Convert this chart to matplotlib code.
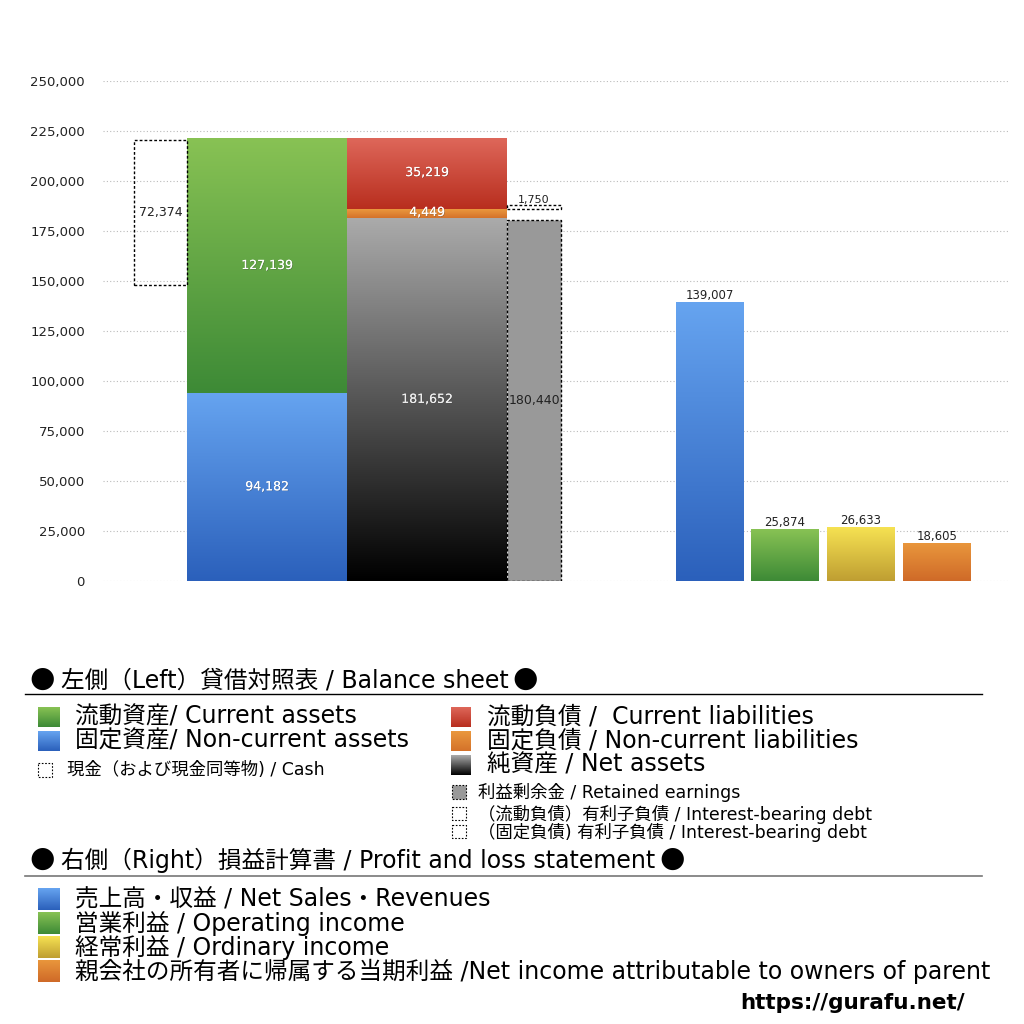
import numpy as np
import matplotlib.pyplot as plt
import matplotlib.patches as mpatches
import matplotlib.patheffects as pe
from matplotlib.colors import LinearSegmentedColormap

plt.rcParams['font.family'] = ['DejaVu Sans', 'Noto Sans CJK JP']

# ---- data ----
current_assets = 127139
noncurrent_assets = 94182
cash = 72374
current_liab = 35219
noncurrent_liab = 4449
net_assets = 181652
retained_earnings = 180440
ib_debt_noncurrent = 1750

pl_labels = ["売上高・収益", "営業利益", "経常利益", "親会社の所有者に帰属する当期利益"]
pl_values = [139007, 25874, 26633, 18605]

yticks = [0, 25000, 50000, 75000, 100000, 125000, 150000, 175000, 200000, 225000, 250000]

# gradient colours (top, bottom)
c_green = ("#88c254", "#3d8a36")
c_blue = ("#66a4f0", "#2b60bb")
c_red = ("#de675a", "#b82e1e")
c_orange = ("#ea983e", "#d4722a")
c_black = ("#ababab", "#000000")
c_yellow = ("#f6e252", "#bf9e32")
c_orange2 = ("#e9963c", "#cf6a28")
pl_colors = [c_blue, c_green, c_yellow, c_orange2]

fig = plt.figure(figsize=(10.24, 10.24), dpi=100)
W, H = 1024, 1024
ax = fig.add_axes([103 / W, 1 - 581 / H, (1010 - 103) / W, 500 / H])
ax.set_xlim(103, 1010)
ax.set_ylim(0, 250000)

num_font = ['DejaVu Sans']


def grad_bar(x0, x1, y0, y1, cols):
    cmap = LinearSegmentedColormap.from_list("g", [cols[1], cols[0]])
    grad = np.linspace(0, 1, 256).reshape(-1, 1)
    ax.imshow(grad, cmap=cmap, origin="lower", aspect="auto",
              extent=[x0, x1, y0, y1], zorder=2, interpolation="bicubic")


def bar_text(x, y, s, color="white", size=9):
    t = ax.text(x, y, s, ha="center", va="center", color=color, fontsize=size,
                family=num_font, zorder=5)
    t.set_path_effects([pe.withSimplePatchShadow(offset=(0.5, -0.5), shadow_rgbFace="#444444", alpha=0.4), pe.Normal()])
    return t


# grid
for v in yticks:
    ax.axhline(v, color="#bbbbbb", lw=0.8, ls=(0, (1, 2)), zorder=0)

# ---- balance sheet ----
total_assets = current_assets + noncurrent_assets
ax_l, ax_r = 187, 347
li_l, li_r = 347, 507
re_l, re_r = 507, 561
cash_l = 134

grad_bar(ax_l, ax_r, 0, noncurrent_assets, c_blue)
grad_bar(ax_l, ax_r, noncurrent_assets, total_assets, c_green)
bar_text((ax_l + ax_r) / 2, noncurrent_assets / 2, f"{noncurrent_assets:,}")
bar_text((ax_l + ax_r) / 2, noncurrent_assets + current_assets * 0.5, f"{current_assets:,}")

# cash box
ax.add_patch(mpatches.Rectangle((cash_l, total_assets - cash - 1000), ax_l - cash_l, cash,
                                fill=False, ls=(0, (2, 1.5)), lw=1, ec="black", zorder=3))
ax.text((cash_l + ax_l) / 2, total_assets - cash / 2 - 1000, f"{cash:,}", ha="center", va="center",
        fontsize=9, color="#222222", family=num_font, zorder=5)

grad_bar(li_l, li_r, 0, net_assets, c_black)
grad_bar(li_l, li_r, net_assets, net_assets + noncurrent_liab, c_orange)
grad_bar(li_l, li_r, net_assets + noncurrent_liab, net_assets + noncurrent_liab + current_liab, c_red)
bar_text((li_l + li_r) / 2, net_assets / 2, f"{net_assets:,}", color="#eeeeee")
bar_text((li_l + li_r) / 2, net_assets + noncurrent_liab / 2 + 400, f"{noncurrent_liab:,}")
bar_text((li_l + li_r) / 2, net_assets + noncurrent_liab + current_liab * 0.5 + 500, f"{current_liab:,}")

# retained earnings
ax.add_patch(mpatches.Rectangle((re_l, 0), re_r - re_l, retained_earnings, fc="#999999",
                                ec="black", ls=(0, (2, 1.5)), lw=1, zorder=3))
ax.text((re_l + re_r) / 2, retained_earnings / 2, f"{retained_earnings:,}", ha="center", va="center",
        fontsize=9, color="#222222", family=num_font, zorder=5)

# interest-bearing debt (non-current)
ib_base = net_assets + noncurrent_liab
ax.add_patch(mpatches.Rectangle((re_l, ib_base), re_r - re_l, ib_debt_noncurrent, fill=False,
                                ec="black", ls=(0, (2, 1.5)), lw=1, zorder=3))
ax.text((re_l + re_r) / 2, ib_base + ib_debt_noncurrent + 2500, f"{ib_debt_noncurrent:,}",
        ha="center", va="center", fontsize=8, color="#222222", family=num_font, zorder=5)

# ---- P&L ----
pl_x = [676, 751, 827, 903]
pl_w = 68
for x0, v, c in zip(pl_x, pl_values, pl_colors):
    grad_bar(x0, x0 + pl_w, 0, v, c)
    ax.text(x0 + pl_w / 2, v + 3500, f"{v:,}", ha="center", va="center", fontsize=8.5,
            color="#222222", family=num_font, zorder=5)

ax.set_xlim(103, 1010)
ax.set_ylim(0, 250000)
ax.set_yticks(yticks)
ax.set_yticklabels([f"{v:,}" for v in yticks], family=num_font, fontsize=9.5, color="#222222")
ax.tick_params(axis="y", length=0, pad=13)
ax.set_xticks([])
for s in ax.spines.values():
    s.set_visible(False)

# ---- legend area (pixel coords) ----
lg = fig.add_axes([0, 0, 1, 1])
lg.set_xlim(0, W)
lg.set_ylim(H, 0)
lg.axis("off")


def sq(x0, y0, w, h, cols=None, dashed=False, fc=None):
    if dashed:
        lg.add_patch(mpatches.Rectangle((x0, y0), w, h, fill=fc is not None, fc=fc or "none",
                                        ec="black", ls=(0, (1.5, 1.5)), lw=0.8))
    elif cols is not None:
        cmap = LinearSegmentedColormap.from_list("g", [cols[0], cols[1]])
        grad = np.linspace(0, 1, 64).reshape(-1, 1)
        lg.imshow(grad, cmap=cmap, aspect="auto", extent=[x0, x0 + w, y0 + h, y0])


fig.canvas.draw()
r = fig.canvas.get_renderer()

hdr1 = "左側（Left）貸借対照表 / Balance sheet"
hdr2 = "右側（Right）損益計算書 / Profit and loss statement"
for y, body in [(680, hdr1), (860, hdr2)]:
    lg.text(29, y - 1, "●", fontsize=21, va="center", family=['DejaVu Sans'])
    t = lg.text(61, y, body, fontsize=17, va="center")
    bb = t.get_window_extent(renderer=r)
    lg.text(bb.x1 + 4, y - 1, "●", fontsize=21, va="center", family=['DejaVu Sans'])

lg.plot([25, 982], [694, 694], color="black", lw=1)
lg.plot([25, 982], [876, 876], color="#777777", lw=1.2)

rows_left = [("流動資産/ Current assets", c_green, 717), ("固定資産/ Non-current assets", c_blue, 741)]
for txt, c, y in rows_left:
    sq(38, y - 10, 22, 20, cols=c)
    lg.text(75, y, txt, fontsize=17, va="center")
sq(38, 763, 14, 14, dashed=True)
lg.text(67, 770, "現金（および現金同等物) / Cash", fontsize=12.5, va="center")

rows_right = [("流動負債 /  Current liabilities", c_red, 717),
              ("固定負債 / Non-current liabilities", c_orange, 741),
              ("純資産 / Net assets", c_black, 765)]
for txt, c, y in rows_right:
    sq(451, y - 10, 20, 20, cols=c)
    lg.text(487, y, txt, fontsize=17, va="center")
sq(452, 785, 14, 14, dashed=True, fc="#999999")
lg.text(478, 792, "利益剰余金 / Retained earnings", fontsize=12.5, va="center")
sq(452, 807, 14, 13, dashed=True)
lg.text(478, 814, "（流動負債）有利子負債 / Interest-bearing debt", fontsize=12.5, va="center")
sq(452, 825, 14, 13, dashed=True)
lg.text(478, 832, "（固定負債) 有利子負債 / Interest-bearing debt", fontsize=12.5, va="center")

pl_en = ["Net Sales・Revenues", "Operating income", "Ordinary income",
         "Net income attributable to owners of parent"]
pl_sep = [" / ", " / ", " / ", " /"]
for i, (jp, en, sep, c) in enumerate(zip(pl_labels, pl_en, pl_sep, pl_colors)):
    y = 899 + 24 * i
    sq(38, y - 11, 22, 22, cols=c)
    lg.text(75, y, jp + sep + en, fontsize=17, va="center")

lg.text(853, 1003, "https://gurafu.net/", fontsize=15.5, fontweight="bold", ha="center", va="center",
        family=['DejaVu Sans'])

fig.savefig("out.png", dpi=100, facecolor="white")
